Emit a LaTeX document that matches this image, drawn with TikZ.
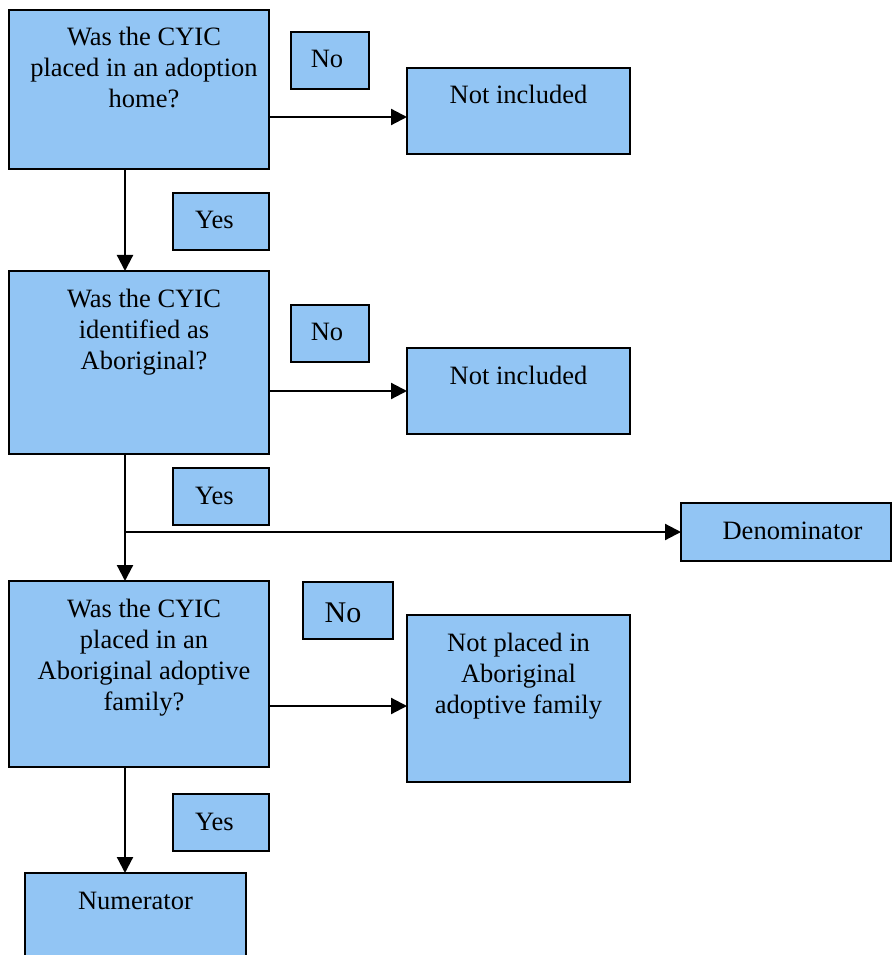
\documentclass[tikz,border=0pt]{standalone}
\usepackage{fontspec}
\setmainfont{Liberation Serif}
\usetikzlibrary{arrows.meta}
\newlength{\du}
\setlength{\du}{0.75pt}
\definecolor{boxfillcolor}{rgb}{0.573, 0.773, 0.957}
% box text: [horizontal offset]{width}{height}{lines}
\newcommand{\boxtxt}[4][0]{\parbox[c][#3\du][t]{#2\du}{\centering
\leftskip=\dimexpr #1\du\relax plus 1fil
\rightskip=\dimexpr -#1\du\relax plus 1fil
\rule{0pt}{36\du}#4}}
\newcommand{\bigno}{{\fontsize{22.5pt}{27pt}\selectfont\rule{0pt}{40\du}No}}

\begin{document}
\begin{tikzpicture}[even odd rule,
  box/.style={draw=black, fill=boxfillcolor, line width=1.5\du, inner sep=0pt, outer sep=0pt,
    font=\fontsize{19.875pt}{23.25pt}\selectfont},
  flow/.style={line width=2.2\du, -{Triangle[length=12pt,width=12pt]}}]
\useasboundingbox (0,0) rectangle (892\du,-955\du);
% first question
\node[box] (q1) at (139\du,-89.5\du) {\boxtxt[5]{260}{159}{Was the CYIC\\placed in an adoption\\home?}};
\node[box] (no1) at (330\du,-60.5\du) {\boxtxt[-3]{78}{57}{No}};
\node[box] (ni1) at (518.5\du,-111\du) {\boxtxt{223}{86}{Not included}};
\node[box] (yes1) at (221\du,-221.5\du) {\boxtxt[-6.5]{96}{57}{Yes}};
% second question
\node[box] (q2) at (139\du,-362.5\du) {\boxtxt[5]{260}{183}{Was the CYIC\\identified as\\Aboriginal?}};
\node[box] (no2) at (330\du,-333.5\du) {\boxtxt[-3]{78}{57}{No}};
\node[box] (ni2) at (518.5\du,-391\du) {\boxtxt{223}{86}{Not included}};
\node[box] (yes2) at (221\du,-496.5\du) {\boxtxt[-6.5]{96}{57}{Yes}};
\node[box] (den) at (786\du,-532\du) {\boxtxt[6.5]{210}{58}{Denominator}};
% third question
\node[box] (q3) at (139\du,-674\du) {\boxtxt[5]{260}{186}{Was the CYIC\\placed in an\\Aboriginal adoptive\\family?}};
\node[box] (no3) at (348\du,-610.5\du) {\boxtxt[-5]{90}{57}{\bigno}};
\node[box] (np) at (518.5\du,-698.5\du) {\boxtxt{223}{167}{Not placed in\\Aboriginal\\adoptive family}};
\node[box] (yes3) at (221\du,-822.5\du) {\boxtxt[-6.5]{96}{57}{Yes}};
\node[box] (num) at (135.5\du,-926.5\du) {\boxtxt{221}{107}{Numerator}};
% connectors
\draw[flow] ([yshift=-27.5\du]q1.east) coordinate (s1) -- (s1 -| ni1.west);
\draw[flow] ([xshift=-14\du]q1.south) -- ([xshift=-14\du]q2.north);
\draw[flow] ([yshift=-28.5\du]q2.east) coordinate (s2) -- (s2 -| ni2.west);
\draw[flow] ([xshift=-14\du]q2.south) -- ([xshift=-14\du]q3.north);
\coordinate (split) at ([xshift=-14\du]q2.south |- den.west);
\draw[flow] (split) -- (den.west);
\draw[flow] ([yshift=-32\du]q3.east) coordinate (s3) -- (s3 -| np.west);
\draw[flow] ([xshift=-14\du]q3.south) coordinate (s4) -- (s4 |- num.north);
\end{tikzpicture}
\end{document}
